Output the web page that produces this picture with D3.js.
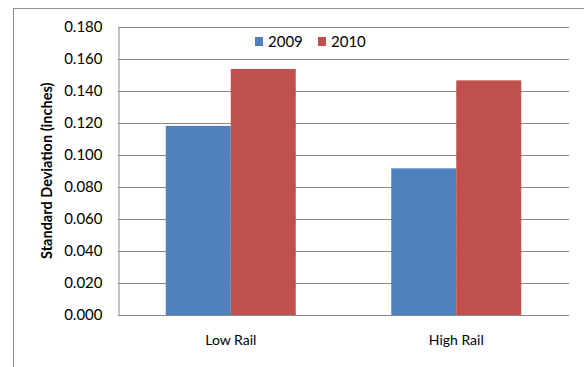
<!DOCTYPE html>
<html>
<head>
<meta charset="utf-8">
<script src="https://cdn.jsdelivr.net/npm/d3@7/dist/d3.min.js"></script>
<style>
  body { margin: 0; background: #fff; }
  svg { display: block; font-family: Lato, "Open Sans", sans-serif; }
</style>
</head>
<body>
<svg width="584" height="367"></svg>
<script>
const categories = ['Low Rail', 'High Rail'];
const years = ['2009', '2010'];
const values2009 = [0.118, 0.0915];
const values2010 = [0.1535, 0.1464];
const yTicks = [0, 0.02, 0.04, 0.06, 0.08, 0.1, 0.12, 0.14, 0.16, 0.18];

const svg = d3.select('svg');
const w = +svg.attr('width');
const h = +svg.attr('height');

// plot box
const plotL = 118, plotR = 569, plotT = 26.5, plotB = 315;

const color = d3.scaleOrdinal(years, ['#4F81BD', '#C0504D']);

// chart frame (runs off the right and bottom of the picture)
svg.append('rect')
  .attr('x', 13.5).attr('y', 8.5)
  .attr('width', w).attr('height', h)
  .attr('fill', 'none')
  .attr('stroke', '#8c8c8c');

const x = d3.scaleBand()
  .domain(categories)
  .range([plotL, plotR])
  .paddingInner(0.4235)
  .paddingOuter(0.21175);

const x1 = d3.scaleBand()
  .domain(years)
  .range([0, x.bandwidth()]);

const y = d3.scaleLinear()
  .domain([0, 0.18])
  .range([plotB, plotT]);

// gridlines
svg.append('g')
  .selectAll('line')
  .data(yTicks)
  .join('line')
  .attr('x1', plotL).attr('x2', plotR)
  .attr('y1', d => Math.round(y(d)) + 0.5)
  .attr('y2', d => Math.round(y(d)) + 0.5)
  .attr('stroke', '#8a8a8a');

// y axis
const yAxis = svg.append('g')
  .attr('transform', `translate(${plotL + 0.5},0)`)
  .call(d3.axisLeft(y).tickValues(yTicks).tickFormat(d3.format('.3f')).tickSize(0).tickPadding(16));
yAxis.select('.domain').attr('stroke', '#8a8a8a');
yAxis.selectAll('text')
  .attr('font-size', 15)
  .attr('font-family', 'Lato, sans-serif')
  .attr('fill', '#000');

// bars
const rows = categories.map((c, i) => ({ cat: c, vals: [values2009[i], values2010[i]] }));

svg.append('g')
  .selectAll('g')
  .data(rows)
  .join('g')
  .attr('transform', d => `translate(${x(d.cat)},0)`)
  .selectAll('rect')
  .data(d => d.vals.map((v, j) => ({ year: years[j], v })))
  .join('rect')
  .attr('x', d => x1(d.year))
  .attr('width', x1.bandwidth())
  .attr('y', d => y(d.v))
  .attr('height', d => y(0) - y(d.v))
  .attr('fill', d => color(d.year));

// x axis
const xAxis = svg.append('g')
  .attr('transform', `translate(0,${plotB + 0.5})`)
  .call(d3.axisBottom(x).tickSize(0).tickPadding(20));
xAxis.select('.domain').attr('stroke', '#8a8a8a').attr('d', `M${plotL},0H${plotR}`);
xAxis.selectAll('text')
  .attr('font-size', 14)
  .attr('font-family', 'Lato, sans-serif')
  .attr('fill', '#000');

// y title
svg.append('text')
  .attr('transform', `translate(52,${(plotT + plotB) / 2}) rotate(-90)`)
  .attr('text-anchor', 'middle')
  .attr('font-size', 14.5)
  .attr('font-weight', 'bold')
  .text('Standard Deviation (inches)');

// legend
const legend = svg.append('g')
  .selectAll('g')
  .data(years)
  .join('g')
  .attr('transform', (d, i) => `translate(${255 + i * 63},37)`);

legend.append('rect')
  .attr('width', 8).attr('height', 9)
  .attr('fill', d => color(d));

legend.append('text')
  .attr('x', 13).attr('y', 9.5)
  .attr('font-size', 15)
  .text(d => d);
</script>
</body>
</html>
